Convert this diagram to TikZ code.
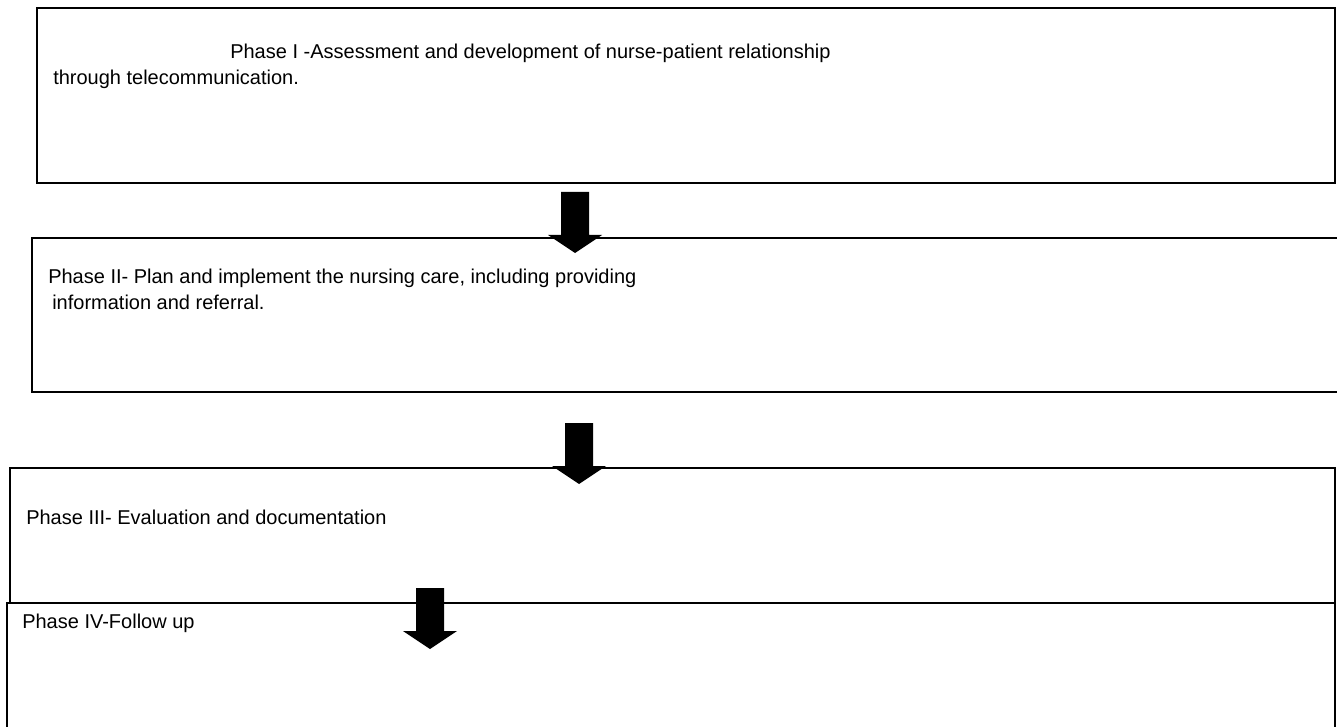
\documentclass[tikz,border=0pt]{standalone}
\usepackage{fontspec}
\setmainfont{Liberation Sans}
\begin{document}
\begin{tikzpicture}[x=0.75pt,y=-0.75pt,
  phasebox/.style={draw=black,line width=2.2pt,fill=none},
  phasetext/.style={anchor=base west,inner sep=0pt,font=\fontsize{15}{18}\selectfont},
  downarrow/.pic={\fill[black] (-14,0) -- (14,0) -- (14,43) -- (27,43) -- (0,61) -- (-27,43) -- (-14,43) -- cycle;}
]
\useasboundingbox (0,0) rectangle (1337,727);
\clip (0,0) rectangle (1337,727);
\fill[white] (0,0) rectangle (1337,727);
% boxes
\coordinate (b1a) at (37,8);   \coordinate (b1b) at (1335,183);
\coordinate (b2a) at (32,238); \coordinate (b2b) at (1350,392);
\coordinate (b3a) at (10,468); \coordinate (b3b) at (1335,603);
\coordinate (b4a) at (7,603);  \coordinate (b4b) at (1335,740);
\draw[phasebox] (b1a) rectangle (b1b);
\draw[phasebox] (b2a) rectangle (b2b);
\draw[phasebox] (b3a) rectangle (b3b);
\draw[phasebox] (b4a) rectangle (b4b);
% texts
\node[phasetext] (t1a) at (230,59) {Phase I -Assessment and development of nurse-patient relationship};
\node[phasetext] (t1b) at (53,85) {through telecommunication.};
\node[phasetext] (t2a) at (48,283) {Phase II- Plan and implement the nursing care, including providing};
\node[phasetext] (t2b) at (52,309) {information and referral.};
\node[phasetext] (t3) at (26,524) {Phase III- Evaluation and documentation};
\node[phasetext] (t4) at (22,628) {Phase IV-Follow up};
% block arrows
\pic at (575,192) {downarrow};
\pic at (579,423) {downarrow};
\pic at (430,588) {downarrow};
\end{tikzpicture}
\end{document}
